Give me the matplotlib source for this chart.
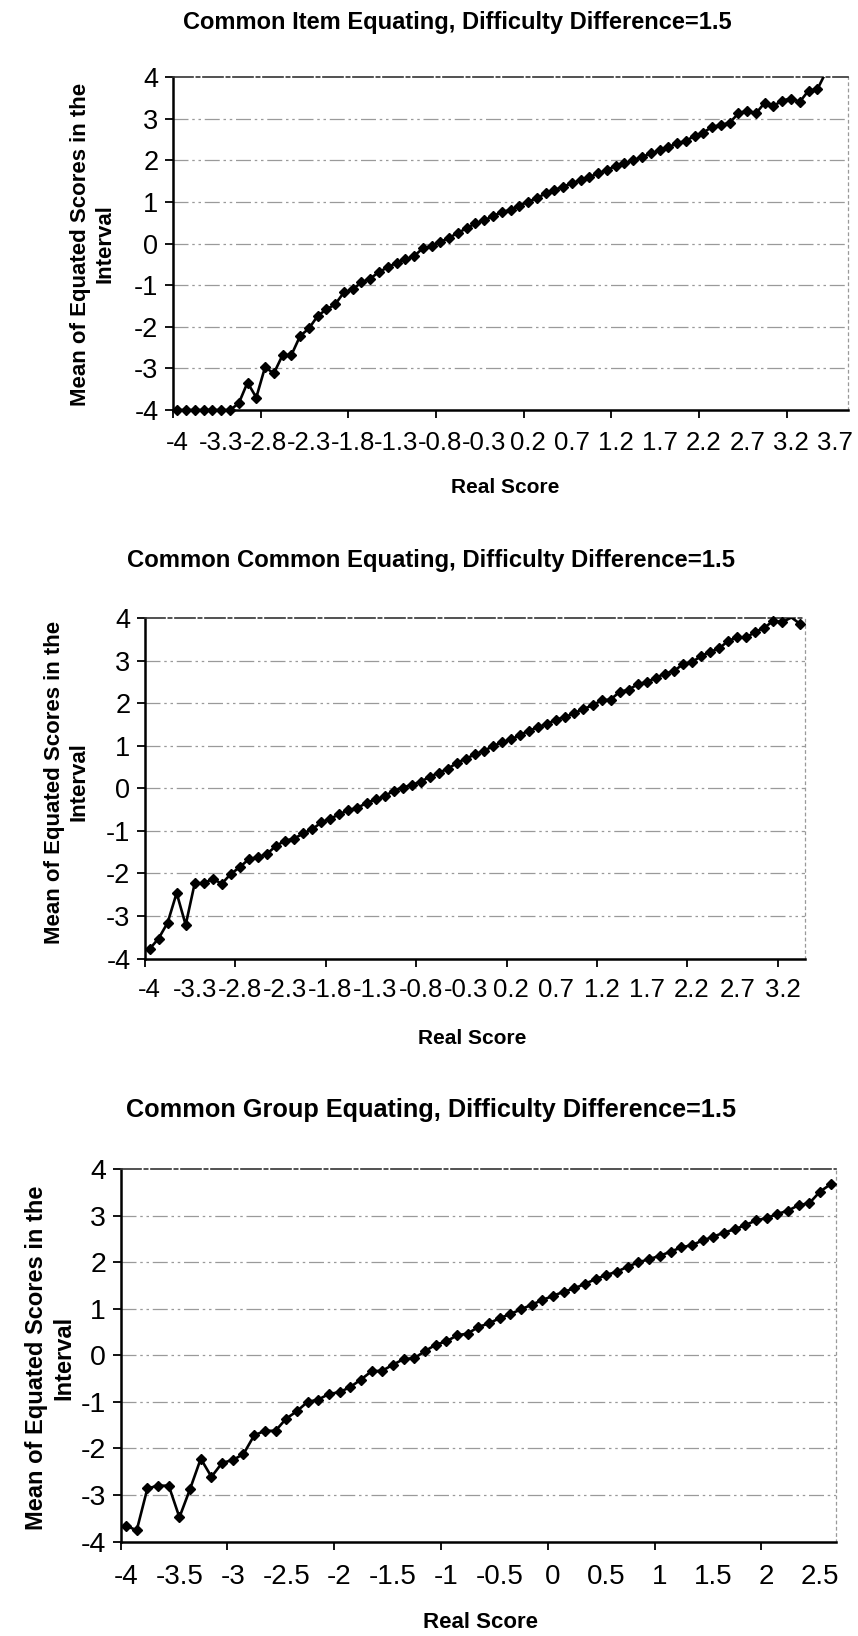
import matplotlib
matplotlib.use("Agg")
import matplotlib.pyplot as plt
import numpy as np

plt.rcParams['font.family'] = ['Liberation Sans', 'DejaVu Sans']

# ---------------- data ----------------
titles = ["Common Item Equating, Difficulty Difference=1.5",
          "Common Common Equating, Difficulty Difference=1.5",
          "Common Group Equating, Difficulty Difference=1.5"]

# categories (Real Score intervals)
cats1 = ["-4"] + [f"{k/10:g}" for k in range(-37, 39)]      # 77 categories
cats2 = ["-4"] + [f"{k/10:g}" for k in range(-37, 35)]      # 73 categories
cats3 = [f"{k/10:g}" for k in range(-40, 27)]               # 67 categories

vals1 = [-4.00, -4.00, -4.00, -4.00, -4.00, -4.00, -4.00, -3.84, -3.34, -3.70,
         -2.97, -3.12, -2.68, -2.68, -2.22, -2.04, -1.74, -1.58, -1.46, -1.17,
         -1.10, -0.93, -0.84, -0.68, -0.57, -0.46, -0.38, -0.30, -0.11, -0.06,
         0.04, 0.14, 0.26, 0.37, 0.49, 0.56, 0.66, 0.76, 0.81, 0.91,
         1.01, 1.09, 1.21, 1.29, 1.37, 1.45, 1.53, 1.60, 1.69, 1.77,
         1.87, 1.93, 2.01, 2.08, 2.17, 2.24, 2.32, 2.41, 2.47, 2.59,
         2.67, 2.81, 2.85, 2.91, 3.13, 3.20, 3.13, 3.39, 3.31, 3.44,
         3.49, 3.41, 3.68, 3.71, 4.13]

vals2 = [-3.78, -3.53, -3.16, -2.46, -3.21, -2.23, -2.23, -2.13, -2.24, -2.01,
         -1.85, -1.66, -1.62, -1.54, -1.35, -1.23, -1.18, -1.06, -0.96, -0.80,
         -0.71, -0.61, -0.51, -0.46, -0.34, -0.26, -0.19, -0.05, 0.02, 0.08,
         0.16, 0.27, 0.37, 0.46, 0.60, 0.70, 0.80, 0.89, 0.99, 1.09,
         1.15, 1.26, 1.36, 1.44, 1.52, 1.62, 1.68, 1.77, 1.87, 1.95,
         2.07, 2.09, 2.27, 2.32, 2.45, 2.50, 2.60, 2.70, 2.76, 2.92,
         2.97, 3.11, 3.21, 3.29, 3.47, 3.55, 3.55, 3.68, 3.78, 3.94,
         3.91, 4.02, 3.86]

vals3 = [-3.66, -3.76, -2.86, -2.80, -2.80, -3.48, -2.87, -2.22, -2.61, -2.31,
         -2.25, -2.12, -1.72, -1.62, -1.62, -1.36, -1.20, -1.00, -0.95, -0.83,
         -0.79, -0.68, -0.52, -0.34, -0.33, -0.20, -0.08, -0.06, 0.09, 0.23,
         0.30, 0.43, 0.47, 0.61, 0.69, 0.80, 0.89, 0.99, 1.09, 1.19,
         1.28, 1.37, 1.44, 1.54, 1.64, 1.73, 1.80, 1.91, 2.00, 2.07,
         2.14, 2.23, 2.32, 2.37, 2.47, 2.55, 2.64, 2.71, 2.80, 2.90,
         2.95, 3.04, 3.11, 3.23, 3.27, 3.52, 3.68]

y_ticks = [-4, -3, -2, -1, 0, 1, 2, 3, 4]
xlabel = "Real Score"
ylabel = "Mean of Equated Scores in the\nInterval"

# ---------------- layout (pixels) ----------------
W, H = 858, 1636
fig = plt.figure(figsize=(W / 100, H / 100), dpi=100)

panels = [
    dict(cats=cats1, vals=vals1, title=titles[0],
         box=(173, 77.3, 848, 410), title_xy=(457, 23), tfs=17,
         ylab_xy=(93, 244), yfs=16, xlab_xy=(505, 487), xfs=15,
         tick_fs=18.5, ytick_fs=19.5, xpad=15),
    dict(cats=cats2, vals=vals2, title=titles[1],
         box=(145, 618.3, 805, 958.5), title_xy=(431, 560), tfs=17.2,
         ylab_xy=(67, 782), yfs=16, xlab_xy=(472, 1038), xfs=15,
         tick_fs=18.5, ytick_fs=19.5, xpad=14),
    dict(cats=cats3, vals=vals3, title=titles[2],
         box=(120.7, 1169.3, 836, 1541.5), title_xy=(431, 1110), tfs=18.2,
         ylab_xy=(50, 1358), yfs=17, xlab_xy=(480, 1623), xfs=16,
         tick_fs=20, ytick_fs=20.5, xpad=16),
]

for p in panels:
    x0, y0, x1, y1 = p['box']
    ax = fig.add_axes([x0 / W, 1 - y1 / H, (x1 - x0) / W, (y1 - y0) / H])
    n = len(p['cats'])
    v = np.array(p['vals'], dtype=float)
    x = np.arange(len(v))

    ax.set_xlim(-0.5, n - 0.5)
    ax.set_ylim(-4, 4)

    # gridlines
    for g in range(-3, 4):
        ax.axhline(g, color='#9a9a9a', lw=0.9, ls=(0, (12, 3, 2, 3, 2, 3)), zorder=1)

    # series
    ax.plot(x, v, color='black', lw=1.9, zorder=3)
    inr = v <= 4.0
    ax.plot(x[inr], v[inr], ls='none', marker='D', ms=4.8, color='black',
            clip_on=False, zorder=4)

    # spines
    for s in ['left', 'bottom']:
        ax.spines[s].set_linewidth(1.8)
        ax.spines[s].set_color('black')
    ax.spines['top'].set_color('#333333')
    ax.spines['top'].set_linewidth(1.2)
    ax.spines['top'].set_linestyle((0, (12, 2, 2, 2)))
    ax.spines['right'].set_color('#999999')
    ax.spines['right'].set_linewidth(0.9)
    ax.spines['right'].set_linestyle((0, (2, 3)))

    # y axis
    ax.set_yticks(y_ticks)
    ax.set_yticklabels([f"{t:g}" for t in y_ticks])
    ax.tick_params(axis='y', direction='out', length=5.5, width=1.3,
                   pad=5, labelsize=p['ytick_fs'])

    # x axis: tick marks every 10 categories at boundaries, labels every 5
    bounds = np.arange(-0.5, n - 0.5, 10)
    ax.set_xticks(bounds)
    ax.set_xticklabels([''] * len(bounds))
    ax.tick_params(axis='x', which='major', direction='out', length=5.5, width=1.3)
    lab_pos = np.arange(0, n, 5)
    ax.set_xticks(lab_pos, minor=True)
    ax.set_xticklabels([p['cats'][i] for i in lab_pos], minor=True)
    ax.tick_params(axis='x', which='minor', length=0, pad=p['xpad'],
                   labelsize=p['tick_fs'])

    # texts
    fig.text(p['title_xy'][0] / W, 1 - p['title_xy'][1] / H, p['title'],
             ha='center', va='center', fontsize=p['tfs'], fontweight='bold')
    fig.text(p['ylab_xy'][0] / W, 1 - p['ylab_xy'][1] / H, ylabel,
             ha='center', va='center', rotation=90, fontsize=p['yfs'],
             fontweight='bold', linespacing=1.25, multialignment='center')
    fig.text(p['xlab_xy'][0] / W, 1 - p['xlab_xy'][1] / H, xlabel,
             ha='center', va='center', fontsize=p['xfs'], fontweight='bold')

fig.savefig("out.png", dpi=100)
